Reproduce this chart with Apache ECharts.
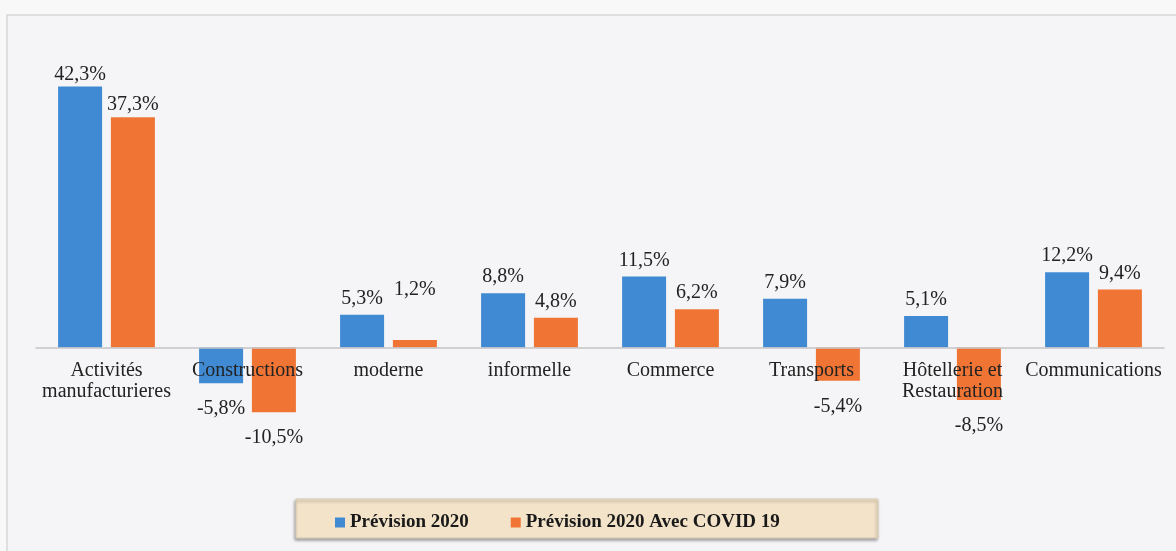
<!DOCTYPE html>
<html>
<head>
<meta charset="utf-8">
<script src="https://cdn.jsdelivr.net/npm/echarts@6/dist/echarts.min.js"></script>
<style>
html,body{margin:0;padding:0;background:#f8f8f9;}
#c{width:1176px;height:551px;}
</style>
</head>
<body>
<div id="c"></div>
<script>
const categories = ["Activités\nmanufacturieres","Constructions","moderne","informelle","Commerce","Transports","Hôtellerie et\nRestauration","Communications"];
const prevision2020 = [42.3, -5.8, 5.3, 8.8, 11.5, 7.9, 5.1, 12.2];
const previsionCovid = [37.3, -10.5, 1.2, 4.8, 6.2, -5.4, -8.5, 9.4];
const seriesNames = ["Prévision 2020", "Prévision 2020 Avec COVID 19"];

const FONT = "'Liberation Serif', 'Times New Roman', serif";
const fmt = p => p.value.toFixed(1).replace('.', ',') + '%';

const Y_MIN = -15, Y_MAX = 50, GRID_TOP = 39, GRID_H = 401;
const zeroOffset = -(0 - Y_MIN) / (Y_MAX - Y_MIN) * GRID_H;

function build(vals, extra){
  return vals.map((v, i) => {
    const item = { value: v, label: { position: v < 0 ? 'bottom' : 'top', distance: v < 0 ? 16 : 6 } };
    if (extra && extra[i] !== undefined) item.label.distance = extra[i];
    return item;
  });
}

const chart = echarts.init(document.getElementById('c'));
chart.setOption({
  backgroundColor: '#f8f8f9',
  animation: false,
  textStyle: { fontFamily: FONT },
  graphic: [
    { type: 'rect', z: -10, shape: { x: 7, y: 15, width: 1180, height: 560 },
      style: { fill: '#f5f5f7', stroke: '#d6d6d8', lineWidth: 1.5 } },
    { type: 'rect', z: -5, shape: { x: 296, y: 499, width: 582, height: 39 },
      style: { fill: '#f3e3c9', stroke: '#d9cbb4', lineWidth: 1,
               shadowBlur: 3, shadowColor: 'rgba(0,0,0,0.35)', shadowOffsetX: -1, shadowOffsetY: 2 } }
  ],
  legend: {
    left: 330, top: 508,
    itemWidth: 10, itemHeight: 10, itemGap: 42,
    icon: 'rect',
    textStyle: { fontFamily: FONT, fontSize: 19, fontWeight: 'bold', color: '#1a1a1a' },
    data: seriesNames
  },
  grid: { left: 36, width: 1128, top: GRID_TOP, height: GRID_H, containLabel: false },
  xAxis: {
    type: 'category',
    data: categories,
    z: 5,
    offset: zeroOffset,
    axisLine: { onZero: false, lineStyle: { color: '#c4c4c6', width: 1.5 } },
    axisTick: { show: false },
    axisLabel: { fontFamily: FONT, fontSize: 20, color: '#222', margin: 13, lineHeight: 21, interval: 0 }
  },
  yAxis: {
    type: 'value', min: Y_MIN, max: Y_MAX, interval: 5,
    show: false, splitLine: { show: false }
  },
  series: [
    {
      name: seriesNames[0], type: 'bar', barWidth: 44, barGap: '20%',
      itemStyle: { color: '#3f8ad3' },
      label: { show: true, formatter: fmt, fontFamily: FONT, fontSize: 20, color: '#222' },
      data: build(prevision2020, { 0: 2 })
    },
    {
      name: seriesNames[1], type: 'bar', barWidth: 44, barGap: '20%',
      itemStyle: { color: '#f07535' },
      label: { show: true, formatter: fmt, fontFamily: FONT, fontSize: 20, color: '#222' },
      data: build(previsionCovid, { 0: 3, 2: 40 })
    }
  ]
});
</script>
</body>
</html>
